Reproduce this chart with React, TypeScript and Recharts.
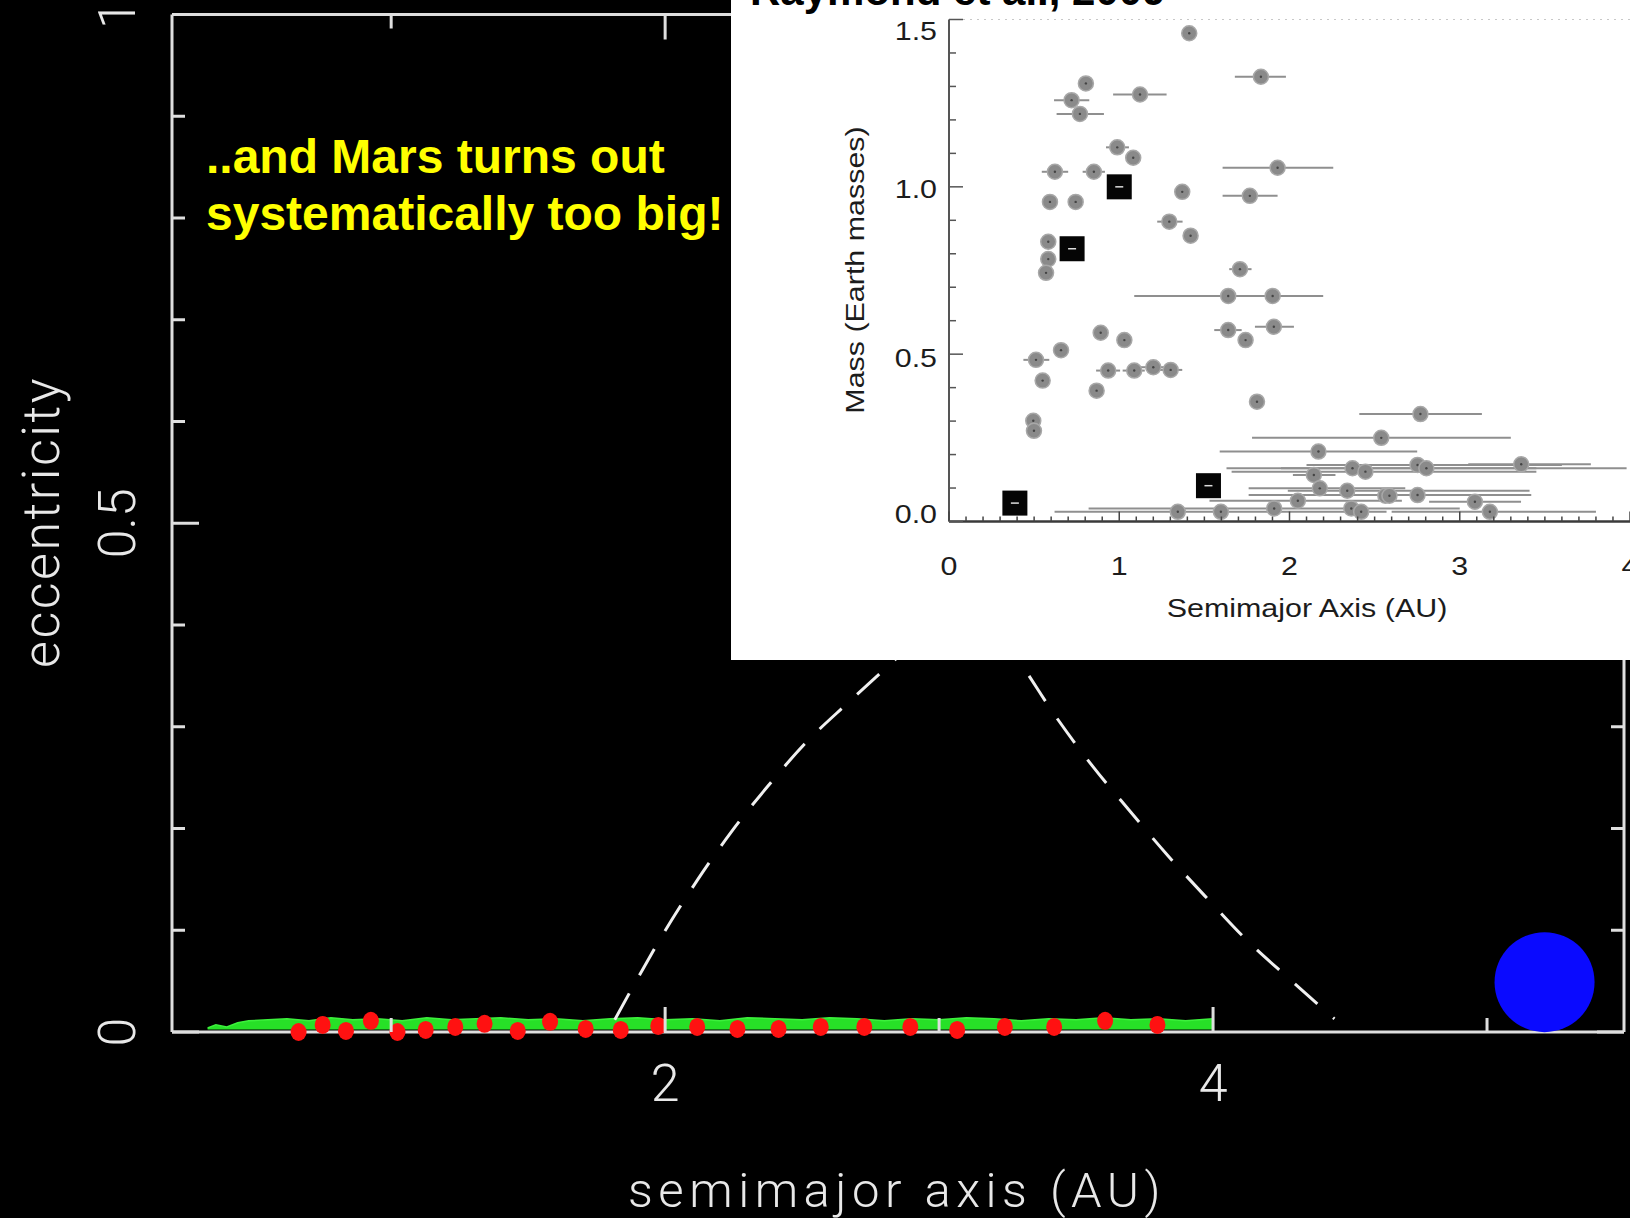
import React from 'react';
import { ComposedChart, ScatterChart, Scatter, Line, Area, XAxis, YAxis, ErrorBar } from 'recharts';

const W = 1630;
const H = 1218;
const AXIS = '#dedede';
const LIGHT_FONT = 'Roboto, "DejaVu Sans", sans-serif';
const HELV = '"Liberation Sans", Arial, sans-serif';
const WIDE = 1.17; // inset lettering is drawn a little wider than plain Helvetica

// ---- eccentricity panel ----
const eccTicks = [0, 0.1, 0.2, 0.3, 0.4, 0.5, 0.6, 0.7, 0.8, 0.9, 1];
const eccLabelValues = [0, 0.5, 1];
const eccLabelText = ['0', '0.5', '1'];
const auTicks = [1, 2, 3, 4, 5];
const auLabelValues = [2, 4];
const auLabelText = ['2', '4'];

// final embryos (red)
const embryoA = [0.662, 0.750, 0.835, 0.926, 1.023, 1.126, 1.234, 1.341, 1.462, 1.580, 1.710, 1.838,
  1.975, 2.117, 2.264, 2.414, 2.568, 2.727, 2.895, 3.066, 3.240, 3.420, 3.606, 3.797];
const embryoE = [0.000, 0.007, 0.001, 0.011, 0.000, 0.002, 0.005, 0.008, 0.001, 0.010, 0.003, 0.002,
  0.006, 0.005, 0.003, 0.003, 0.005, 0.005, 0.005, 0.002, 0.005, 0.005, 0.011, 0.007];

// planetesimal disk (green), upper edge of the band
const diskA = [0.33, 0.36, 0.40, 0.44, 0.48, 0.55, 0.62, 0.70, 0.78, 0.86, 0.95, 1.04, 1.13, 1.22,
  1.31, 1.40, 1.50, 1.60, 1.70, 1.80, 1.90, 2.00, 2.10, 2.20, 2.30, 2.40, 2.50, 2.60, 2.70, 2.80,
  2.90, 3.00, 3.10, 3.20, 3.30, 3.40, 3.50, 3.60, 3.70, 3.80, 3.90, 4.00];
const diskE = [0.004, 0.007, 0.005, 0.009, 0.011, 0.012, 0.013, 0.011, 0.014, 0.012, 0.013, 0.011,
  0.014, 0.012, 0.013, 0.014, 0.012, 0.013, 0.011, 0.013, 0.014, 0.012, 0.013, 0.011, 0.014, 0.013,
  0.012, 0.014, 0.013, 0.011, 0.013, 0.012, 0.014, 0.013, 0.011, 0.013, 0.012, 0.014, 0.012, 0.013,
  0.011, 0.013];

// secular resonance boundary (dashed)
const resonanceA = [1.816, 1.896, 2.001, 2.117, 2.237, 2.373, 2.509, 2.665, 2.824, 3.10, 3.293,
  3.426, 3.558, 3.700, 3.833, 3.983, 4.124, 4.275, 4.443];
const resonanceE = [0.012, 0.051, 0.100, 0.149, 0.195, 0.241, 0.283, 0.323, 0.362, 0.43, 0.364,
  0.310, 0.262, 0.216, 0.174, 0.130, 0.090, 0.053, 0.013];

const jupiterA = [5.21];
const jupiterE = [0.049];

// ---- mass panel ----
const massTicks = [0, 0.1, 0.2, 0.3, 0.4, 0.5, 0.6, 0.7, 0.8, 0.9, 1, 1.1, 1.2, 1.3, 1.4, 1.5];
const massLabelValues = [0, 0.5, 1, 1.5];
const massLabelText = ['0.0', '0.5', '1.0', '1.5'];
const insetAuTicks = Array.from({ length: 41 }, (_, i) => i / 10);
const insetAuLabelValues = [0, 1, 2, 3, 4];
const insetAuLabelText = ['0', '1', '2', '3', '4'];

const simA = [1.411, 0.804, 0.720, 0.769, 1.122, 0.988, 1.082, 0.622, 0.851, 0.593, 0.744, 0.583,
  0.583, 0.570, 1.370, 1.294, 1.419, 0.891, 1.030, 0.658, 0.511, 0.550, 0.495, 0.499, 0.935, 1.088,
  1.200, 1.302, 0.867, 1.832, 1.930, 1.767, 1.709, 1.640, 1.901, 1.640, 1.908, 1.742, 1.809, 2.769,
  2.539, 2.170, 2.370, 2.446, 2.752, 2.804, 3.361, 2.143, 2.178, 2.339, 2.563, 2.587, 2.752, 2.049,
  3.089, 1.344, 1.597, 1.910, 2.363, 2.421, 3.177];
const simM = [1.459, 1.309, 1.259, 1.218, 1.276, 1.118, 1.087, 1.045, 1.045, 0.955, 0.955, 0.836,
  0.784, 0.743, 0.985, 0.896, 0.854, 0.564, 0.542, 0.512, 0.483, 0.421, 0.301, 0.271, 0.451, 0.451,
  0.461, 0.453, 0.391, 1.329, 1.057, 0.973, 0.754, 0.674, 0.674, 0.572, 0.582, 0.542, 0.358, 0.321,
  0.250, 0.209, 0.159, 0.149, 0.169, 0.159, 0.171, 0.139, 0.099, 0.092, 0.077, 0.077, 0.079, 0.062,
  0.059, 0.029, 0.029, 0.039, 0.039, 0.029, 0.029];
// perihelion / aphelion (null = no bar)
const simPeri: (number | null)[] = [null, null, 0.617, 0.632, 0.964, 0.922, null, 0.545, 0.785, null,
  null, null, null, null, 1.33, 1.223, null, null, null, null, 0.437, null, 0.46, null, 0.864, 1.02,
  1.12, 1.23, null, 1.679, 1.607, 1.607, 1.646, 1.088, null, 1.558, 1.797, null, null, 2.41, 1.78,
  1.59, 1.63, 1.66, 2.10, 1.95, 3.05, 2.02, 1.76, 1.99, null, null, 1.76, 1.53, 2.82, null, 0.62,
  0.82, null, null, 2.60];
const simApo: (number | null)[] = [null, null, 0.824, 0.910, 1.278, 1.057, null, 0.700, 0.916, null,
  null, null, null, null, 1.41, 1.372, null, null, null, null, 0.589, null, 0.53, null, 1.005, 1.15,
  1.27, 1.37, null, 1.979, 2.257, 1.930, 1.777, 2.198, null, 1.719, 2.026, null, null, 3.13, 3.30,
  2.75, 3.45, 3.45, 3.60, 3.98, 3.77, 2.27, 2.68, 3.41, null, null, 3.42, 2.66, 3.36, null, 2.57,
  3.00, null, null, 3.80];

const planetNames = ['Mercury', 'Venus', 'Earth', 'Mars'];
const planetA = [0.387, 0.723, 1.0, 1.524];
const planetM = [0.055, 0.815, 1.0, 0.107];

const embryoData = embryoA.map((a, i) => ({ a, e: embryoE[i] }));
const diskData = diskA.map((a, i) => ({ a, e: diskE[i] }));
const resonanceData = resonanceA.map((a, i) => ({ a, e: resonanceE[i] }));
const jupiterData = jupiterA.map((a, i) => ({ a, e: jupiterE[i] }));
const simData = simA.map((a, i) => {
  const lo = simPeri[i];
  const hi = simApo[i];
  return { a, m: simM[i], err: lo == null || hi == null ? [0, 0] : [a - lo, hi - a] };
});
const planetData = planetA.map((a, i) => ({ name: planetNames[i], a, m: planetM[i] }));

const near = (v: number, w: number) => Math.abs(v - w) < 1e-6;
const labelFor = (v: number, values: number[], text: string[]) => {
  const i = values.findIndex((w) => near(v, w));
  return i < 0 ? null : text[i];
};

function EccTick(props: any) {
  const { x, y, payload, side } = props;
  const v = payload.value;
  const major = near(v * 2, Math.round(v * 2));
  const len = major ? 27 : 13;
  const dir = side === 'left' ? 1 : -1;
  const label = side === 'left' ? labelFor(v, eccLabelValues, eccLabelText) : null;
  const lx = x - 55;
  return (
    <g>
      <line x1={x} y1={y} x2={x + dir * len} y2={y} stroke={AXIS} strokeWidth={3} />
      {label && (
        <text x={lx} y={y} transform={`rotate(-90 ${lx} ${y})`} textAnchor="middle"
          dominantBaseline="central" fill="#e8e8e8" fontFamily={LIGHT_FONT} fontWeight={300} fontSize={52}>
          {label}
        </text>
      )}
    </g>
  );
}

function AuTick(props: any) {
  const { x, y, payload, side } = props;
  const v = payload.value;
  const major = near(v / 2, Math.round(v / 2));
  const len = major ? 25 : 14;
  const dir = side === 'bottom' ? -1 : 1;
  const label = side === 'bottom' ? labelFor(v, auLabelValues, auLabelText) : null;
  return (
    <g>
      <line x1={x} y1={y} x2={x} y2={y + dir * len} stroke={AXIS} strokeWidth={3} />
      {label && (
        <text x={x} y={y + 51} textAnchor="middle" dominantBaseline="central" fill="#e8e8e8"
          fontFamily={LIGHT_FONT} fontWeight={300} fontSize={52}>
          {label}
        </text>
      )}
    </g>
  );
}

function InsetAuTick(props: any) {
  const { x, y, payload, side } = props;
  const v = payload.value;
  const major = near(v, Math.round(v));
  if (side === 'top') {
    return <line x1={x} y1={y} x2={x} y2={y + (major ? 8 : 3)} stroke={major ? '#666' : '#999'} strokeWidth={major ? 2.5 : 1.5} />;
  }
  const label = labelFor(v, insetAuLabelValues, insetAuLabelText);
  const ly = y + 44;
  return (
    <g>
      <line x1={x} y1={y} x2={x} y2={y - (major ? 10 : 5)} stroke="#444" strokeWidth={1.5} />
      {label && (
        <text x={0} y={0} transform={`translate(${x} ${ly}) scale(${WIDE} 1)`} textAnchor="middle"
          dominantBaseline="central" fill="#1c1c1c" fontFamily={HELV} fontSize={26}>
          {label}
        </text>
      )}
    </g>
  );
}

function MassTick(props: any) {
  const { x, y, payload } = props;
  const v = payload.value;
  const major = near(v * 2, Math.round(v * 2));
  const label = labelFor(v, massLabelValues, massLabelText);
  // end labels sit slightly inside the axis range
  const shift = near(v, 1.5) ? 11 : near(v, 0) ? -8 : near(v, 0.5) ? 4 : 2;
  return (
    <g>
      <line x1={x} y1={y} x2={x + (major ? 14 : 7)} y2={y} stroke="#555" strokeWidth={1.5} />
      {label && (
        <text x={0} y={0} transform={`translate(${x - 12} ${y + shift}) scale(${WIDE} 1)`} textAnchor="end"
          dominantBaseline="central" fill="#1c1c1c" fontFamily={HELV} fontSize={26}>
          {label}
        </text>
      )}
    </g>
  );
}

const redDot = (p: any) => <ellipse cx={p.cx} cy={p.cy} rx={8} ry={9} fill="#ff1111" />;
const jupiterDot = (p: any) => <circle cx={p.cx} cy={p.cy} r={50} fill="#0a0aff" />;
const grayDot = (p: any) => (
  <g>
    <circle cx={p.cx} cy={p.cy} r={7.5} fill="#8a8a8a" stroke="#a8a8a8" strokeWidth={1.5} />
    <circle cx={p.cx} cy={p.cy} r={1.2} fill="#444" />
  </g>
);
const planetSquare = (p: any) => (
  <g>
    <rect x={p.cx - 12.5} y={p.cy - 12.5} width={25} height={25} fill="#050505" />
    <line x1={p.cx - 4} y1={p.cy} x2={p.cx + 4} y2={p.cy} stroke="#ddd" strokeWidth={1.5} />
  </g>
);

const text = (extra: React.CSSProperties): React.CSSProperties => ({
  position: 'absolute',
  whiteSpace: 'nowrap',
  lineHeight: 1,
  ...extra,
});

// axes are 1px thick/wide so Recharts still draws them; margins absorb that pixel
export default function App() {
  return (
    <div style={{ position: 'fixed', left: 0, top: 0, width: W, height: H, background: '#000', overflow: 'hidden' }}>
      <ComposedChart width={W} height={H} data={diskData} margin={{ top: 13.5, right: 5, bottom: 185, left: 171 }}>
        <XAxis xAxisId="b" dataKey="a" type="number" domain={[0.2, 5.5]} ticks={auTicks}
          interval={0} height={1} tickSize={0} tickMargin={0} tickLine={false}
          axisLine={{ stroke: AXIS, strokeWidth: 3 }} tick={<AuTick side="bottom" />} />
        <XAxis xAxisId="t" orientation="top" dataKey="a" type="number" domain={[0.2, 5.5]}
          ticks={auTicks} interval={0} height={1} tickSize={0} tickMargin={0} tickLine={false}
          axisLine={{ stroke: AXIS, strokeWidth: 3 }} tick={<AuTick side="top" />} />
        <YAxis yAxisId="l" dataKey="e" type="number" domain={[0, 1]} ticks={eccTicks}
          interval={0} width={1} tickSize={0} tickMargin={0} tickLine={false}
          axisLine={{ stroke: AXIS, strokeWidth: 3 }} tick={<EccTick side="left" />} />
        <YAxis yAxisId="r" orientation="right" dataKey="e" type="number" domain={[0, 1]}
          ticks={eccTicks} interval={0} width={1} tickSize={0} tickMargin={0} tickLine={false}
          axisLine={{ stroke: AXIS, strokeWidth: 3 }} tick={<EccTick side="right" />} />
        <Area xAxisId="b" yAxisId="l" dataKey="e" type="linear" baseValue={0.0025} fill="#27e027"
          fillOpacity={1} stroke="#3cf03c" strokeWidth={1.5} isAnimationActive={false} />
        <Line xAxisId="b" yAxisId="l" data={resonanceData} dataKey="e" type="monotone" stroke="#f0f0f0"
          strokeWidth={3} strokeDasharray="30 21" dot={false} activeDot={false} isAnimationActive={false} />
        <Scatter xAxisId="b" yAxisId="l" data={embryoData} dataKey="e" shape={redDot} isAnimationActive={false} />
        <Scatter xAxisId="b" yAxisId="l" data={jupiterData} dataKey="e" shape={jupiterDot} isAnimationActive={false} />
      </ComposedChart>

      <div style={text({ left: 41.6, top: 522, transform: 'translate(-50%, -50%) rotate(-90deg)', color: '#e8e8e8',
        fontFamily: LIGHT_FONT, fontWeight: 300, fontSize: 52, letterSpacing: 2.5 })}>eccentricity</div>
      <div style={text({ left: 897, top: 1190, transform: 'translate(-50%, -50%)', color: '#e8e8e8',
        fontFamily: LIGHT_FONT, fontWeight: 300, fontSize: 49, letterSpacing: 5.5 })}>semimajor axis (AU)</div>
      <div style={text({ left: 206, top: 133, color: '#ffff00', fontFamily: HELV, fontWeight: 700, fontSize: 48 })}>
        ..and Mars turns out
      </div>
      <div style={text({ left: 206, top: 190, color: '#ffff00', fontFamily: HELV, fontWeight: 700, fontSize: 48 })}>
        systematically too big!
      </div>

      <div style={{ position: 'absolute', left: 731, top: 0, width: 899, height: 660, background: '#fff', overflow: 'hidden' }}>
        <ScatterChart width={899} height={660} margin={{ top: 18.5, right: 0, bottom: 137.5, left: 217 }}>
          <XAxis xAxisId="b" dataKey="a" type="number" domain={[0, 4]} ticks={insetAuTicks}
            interval={0} height={1} tickSize={0} tickMargin={0} tickLine={false}
            axisLine={{ stroke: '#3a3a3a', strokeWidth: 2.5 }} tick={<InsetAuTick side="bottom" />} />
          <XAxis xAxisId="t" orientation="top" dataKey="a" type="number" domain={[0, 4]}
            ticks={insetAuTicks} interval={0} height={1} tickSize={0} tickMargin={0} tickLine={false}
            axisLine={{ stroke: '#c8c8c8', strokeWidth: 1, strokeDasharray: '2 5' }} tick={<InsetAuTick side="top" />} />
          <YAxis yAxisId="l" dataKey="m" type="number" domain={[0, 1.5]} ticks={massTicks}
            interval={0} width={1} tickSize={0} tickMargin={0} tickLine={false}
            axisLine={{ stroke: '#555', strokeWidth: 2 }} tick={<MassTick />} />
          <Scatter xAxisId="b" yAxisId="l" data={simData} dataKey="m" shape={grayDot} isAnimationActive={false}>
            <ErrorBar dataKey="err" direction="x" width={0} stroke="#8f8f8f" strokeWidth={2} isAnimationActive={false} />
          </Scatter>
          <Scatter xAxisId="b" yAxisId="l" data={planetData} dataKey="m" shape={planetSquare} isAnimationActive={false} />
        </ScatterChart>
        <div style={text({ left: 19, top: -30.5, color: '#000', fontFamily: HELV, fontWeight: 700, fontSize: 42 })}>
          Raymond et al., 2009
        </div>
        <div style={text({ left: 124, top: 270, transform: `translate(-50%, -50%) rotate(-90deg) scaleX(${WIDE})`,
          color: '#1c1c1c', fontFamily: HELV, fontSize: 26 })}>Mass (Earth masses)</div>
        <div style={text({ left: 576, top: 608, transform: `translate(-50%, -50%) scaleX(${WIDE})`, color: '#1c1c1c',
          fontFamily: HELV, fontSize: 26 })}>Semimajor Axis (AU)</div>
      </div>
    </div>
  );
}
